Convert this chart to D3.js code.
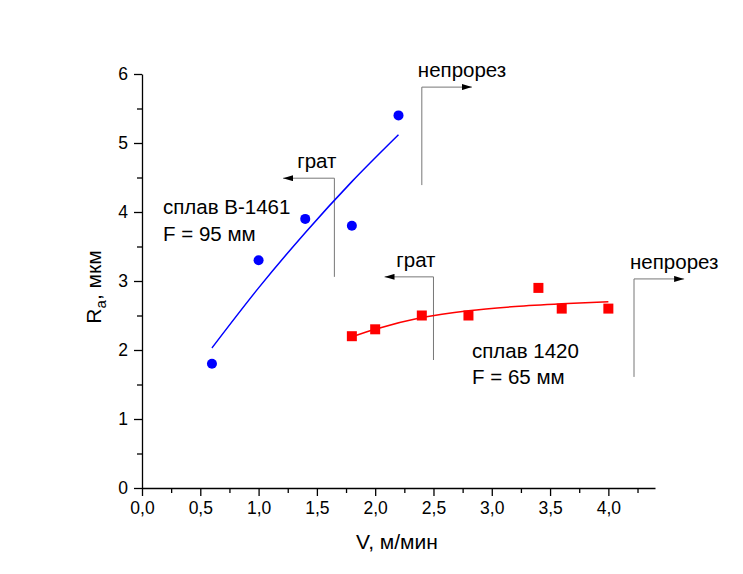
<!DOCTYPE html>
<html>
<head>
<meta charset="utf-8">
<script src="https://cdn.jsdelivr.net/npm/d3@7"></script>
<style>
  body { margin: 0; background: #fff; }
  text { font-family: "Liberation Sans", Arial, sans-serif; fill: #000; }
</style>
</head>
<body>
<script>
//measured points, alloy B-1461 (F = 95 mm)
var blueV = [0.6, 1.0, 1.4, 1.8, 2.2],
    blueRa = [1.8, 3.3, 3.9, 3.8, 5.4];
//fit curve
var blueFitV = [0.6, 1.0, 1.4, 1.8, 2.2],
    blueFitRa = [2.03, 2.90, 3.70, 4.44, 5.12];

//measured points, alloy 1420 (F = 65 mm)
var redV = [1.8, 2.0, 2.4, 2.8, 3.4, 3.6, 4.0],
    redRa = [2.2, 2.3, 2.5, 2.5, 2.9, 2.6, 2.6];
var redFitV = [1.8, 2.0, 2.4, 2.8, 3.2, 3.6, 4.0],
    redFitRa = [2.19, 2.30, 2.47, 2.57, 2.63, 2.67, 2.70];

var xTicks = [0, 0.5, 1.0, 1.5, 2.0, 2.5, 3.0, 3.5, 4.0],
    yTicks = [0, 1, 2, 3, 4, 5, 6];

//zone brackets: [x of vertical, y top, y bottom, x of arrow end, label]
var brackets = [
    [2.4, 5.81, 4.39, 2.83, "непрорез"],
    [1.65, 4.49, 3.06, 1.21, "грат"],
    [2.5, 3.06, 1.855, 2.08, "грат"],
    [4.22, 3.03, 1.61, 4.65, "непрорез"]
];

var width = 743,
    height = 574;

var svg = d3.select("body")
    .append("svg")
    .attr("width", width)
    .attr("height", height);

svg.append("defs").append("marker")
    .attr("id", "arr")
    .attr("viewBox", "0 0 10 6")
    .attr("refX", 10)
    .attr("refY", 3)
    .attr("markerWidth", 10)
    .attr("markerHeight", 6)
    .attr("markerUnits", "userSpaceOnUse")
    .attr("orient", "auto")
    .append("path")
    .attr("d", "M0,0L10,3L0,6Z")
    .attr("fill", "#000");

var x = d3.scaleLinear().domain([0, 4.4]).range([142, 655]);
var y = d3.scaleLinear().domain([0, 6]).range([488, 74]);

var fmt = function(d) { return d3.format(".1f")(d).replace(".", ","); };

//minor ticks first
svg.append("g")
    .attr("transform", "translate(0,488)")
    .call(d3.axisBottom(x).tickValues(d3.range(0.25, 4.3, 0.5)).tickSize(5).tickFormat(""))
    .call(function(g) { g.select(".domain").remove(); });
svg.append("g")
    .attr("transform", "translate(142,0)")
    .call(d3.axisLeft(y).tickValues(d3.range(0.5, 6, 1)).tickSize(5).tickFormat(""))
    .call(function(g) { g.select(".domain").remove(); });

var xAxis = svg.append("g")
    .attr("transform", "translate(0,488)")
    .call(d3.axisBottom(x).tickValues(xTicks).tickSize(8).tickSizeOuter(0).tickPadding(6).tickFormat(fmt));
var yAxis = svg.append("g")
    .attr("transform", "translate(142,0)")
    .call(d3.axisLeft(y).tickValues(yTicks).tickSize(8).tickSizeOuter(0).tickPadding(6).tickFormat(d3.format("d")));

svg.selectAll(".tick line, .domain").attr("stroke", "#000").attr("stroke-width", 1.3);
xAxis.selectAll("text").attr("font-size", 17.5).attr("font-family", "Liberation Sans, Arial, sans-serif");
yAxis.selectAll("text").attr("font-size", 17.5).attr("font-family", "Liberation Sans, Arial, sans-serif");

//axis titles
svg.append("text")
    .attr("x", 397)
    .attr("y", 549)
    .attr("text-anchor", "middle")
    .attr("font-size", 21)
    .text("V, м/мин");

var yl = svg.append("text")
    .attr("transform", "translate(101,287) rotate(-90)")
    .attr("text-anchor", "middle")
    .attr("font-size", 21);
yl.append("tspan").text("R");
yl.append("tspan").attr("font-size", 15).attr("dy", 5).text("a");
yl.append("tspan").attr("dy", -5).text(", мкм");

//brackets
brackets.forEach(function(b) {
    svg.append("path")
        .attr("d", "M" + x(b[0]) + "," + y(b[2]) + "V" + y(b[1]) + "H" + x(b[3]))
        .attr("fill", "none")
        .attr("stroke", "#777")
        .attr("stroke-width", 1)
        .attr("marker-end", "url(#arr)");
    var right = b[3] > b[0];
    svg.append("text")
        .attr("x", right ? x(b[0]) - 4 : x(b[0]) + 2)
        .attr("y", y(b[1]) - 10)
        .attr("text-anchor", right ? "start" : "end")
        .attr("font-size", 20.5)
        .text(b[4]);
});

//fit lines
var line = d3.line()
    .x(function(d) { return x(d[0]); })
    .y(function(d) { return y(d[1]); })
    .curve(d3.curveMonotoneX);

svg.append("path")
    .datum(d3.zip(blueFitV, blueFitRa))
    .attr("d", line)
    .attr("fill", "none")
    .attr("stroke", "#0000ff")
    .attr("stroke-width", 1.5);

svg.append("path")
    .datum(d3.zip(redFitV, redFitRa))
    .attr("d", line)
    .attr("fill", "none")
    .attr("stroke", "#ff0000")
    .attr("stroke-width", 1.5);

//points
svg.selectAll(".blue")
    .data(d3.zip(blueV, blueRa))
    .enter()
    .append("circle")
    .attr("class", "blue")
    .attr("cx", function(d) { return x(d[0]); })
    .attr("cy", function(d) { return y(d[1]); })
    .attr("r", 5)
    .attr("fill", "#0000ff");

svg.selectAll(".red")
    .data(d3.zip(redV, redRa))
    .enter()
    .append("rect")
    .attr("class", "red")
    .attr("x", function(d) { return x(d[0]) - 5; })
    .attr("y", function(d) { return y(d[1]) - 5; })
    .attr("width", 10)
    .attr("height", 10)
    .attr("fill", "#ff0000");

//series labels
var l1 = svg.append("text").attr("font-size", 20.5);
l1.append("tspan").attr("x", 163).attr("y", 214).text("сплав В-1461");
l1.append("tspan").attr("x", 163).attr("y", 241).text("F = 95 мм");

var l2 = svg.append("text").attr("font-size", 20.5);
l2.append("tspan").attr("x", 472).attr("y", 358).text("сплав 1420");
l2.append("tspan").attr("x", 472).attr("y", 384).text("F = 65 мм");
</script>
</body>
</html>
